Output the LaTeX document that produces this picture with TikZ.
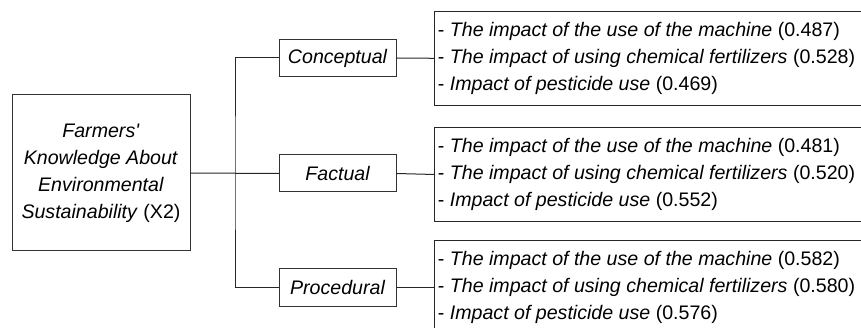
\documentclass[tikz,border=0pt]{standalone}
\usepackage{fontspec}
\setmainfont{Liberation Sans}[Ligatures=TeXOff]
\tikzset{
  box/.style={draw=black!80, line width=1pt, inner sep=3pt, fill=white},
  dimbox/.style={box, minimum width=116.5pt, minimum height=37pt},
  itembox/.style={inner sep=3pt, anchor=west, minimum height=93.5pt, align=left},
  link/.style={draw=black!85, line width=1pt}
}
\begin{document}
\begin{tikzpicture}[x=1pt, y=-1pt, font=\fontsize{19.6}{27}\selectfont]
    % Fix the size of the picture and cut the item boxes at the right edge.
    \useasboundingbox (0,0) rectangle (861,328);
    \clip (0,0) rectangle (861,328);
    % Draw the main variable.
    \node[box, minimum width=178pt, minimum height=156pt, align=center] (knowledge) at (101,173)
      {\textit{Farmers'}\\\textit{Knowledge About}\\\textit{Environmental}\\\textit{Sustainability} (X2)};
    % Draw the three dimensions.
    \node[dimbox] (conceptual) at (337.75,58) {\textit{Conceptual}};
    \node[dimbox] (factual) at (337.75,173.5) {\textit{Factual}};
    \node[dimbox] (procedural) at (337.75,287.5) {\textit{Procedural}};
    % Draw the indicators of each dimension.
    \node[itembox] (conceptitems) at (434.7,58.3)
      {- \textit{The impact of the use of the machine} (0.487)\\
       - \textit{The impact of using chemical fertilizers} (0.528)\\
       - \textit{Impact of pesticide use} (0.469)};
    \node[itembox] (factitems) at (434.7,174.5)
      {- \textit{The impact of the use of the machine} (0.481)\\
       - \textit{The impact of using chemical fertilizers} (0.520)\\
       - \textit{Impact of pesticide use} (0.552)};
    \node[itembox] (procitems) at (434.7,287.5)
      {- \textit{The impact of the use of the machine} (0.582)\\
       - \textit{The impact of using chemical fertilizers} (0.580)\\
       - \textit{Impact of pesticide use} (0.576)};
    % Draw the item boxes, open at the right edge.
    \foreach \items in {conceptitems, factitems, procitems}
      \draw[link] (\items.north east) ++(20,0) -| (\items.south west) -- ++(450,0);
    % Draw the tree lines.
    \coordinate (branch) at (235,173.5);
    \draw[link] (knowledge.east) -- (factual.west);
    \draw[link] (conceptual.west) -| (branch) |- (procedural.west);
    \draw[link] (conceptual.east) -- (conceptitems.west);
    \draw[link] (factual.east) -- (factitems.west);
    \draw[link] (procedural.east) -- (procitems.west);
  \end{tikzpicture}
\end{document}
